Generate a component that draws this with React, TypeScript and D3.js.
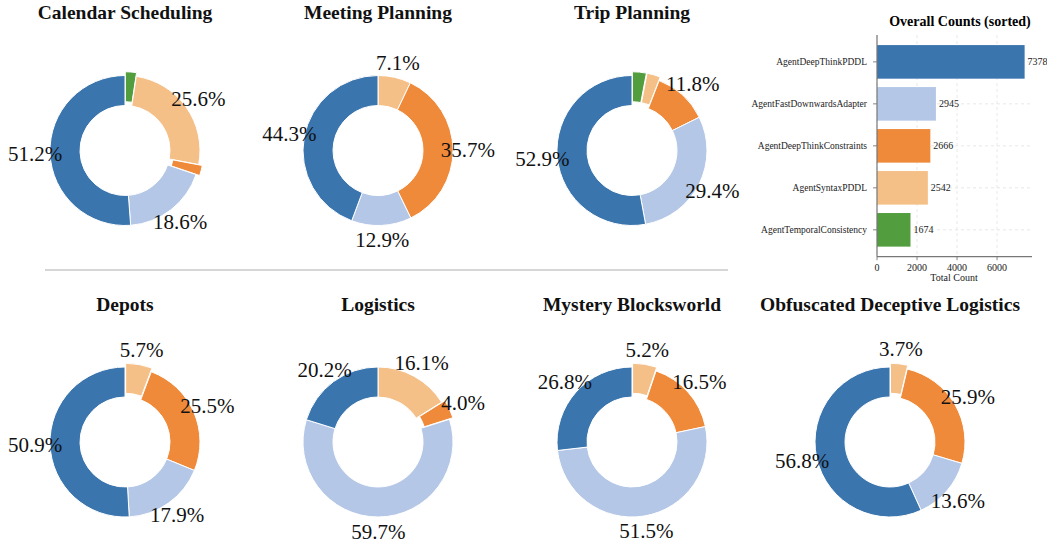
import React, { useEffect } from "react";
import * as d3 from "d3";

const width = 1047;
const height = 543;

// agents in the order the slices are drawn (clockwise from the top)
const agents = [
  "AgentTemporalConsistency",
  "AgentSyntaxPDDL",
  "AgentDeepThinkConstraints",
  "AgentFastDownwardsAdapter",
  "AgentDeepThinkPDDL",
];
const colors = ["#529e3e", "#f5c088", "#ef8a3a", "#b4c7e7", "#3a75ae"];

// percentage shares per domain, same order as agents
const domains = [
  "Calendar Scheduling",
  "Meeting Planning",
  "Trip Planning",
  "Depots",
  "Logistics",
  "Mystery Blocksworld",
  "Obfuscated Deceptive Logistics",
];
const calendarShares = [2.4, 25.6, 2.2, 18.6, 51.2];
const meetingShares = [0, 7.1, 35.7, 12.9, 44.3];
const tripShares = [3.0, 2.9, 11.8, 29.4, 52.9];
const depotsShares = [0, 5.7, 25.5, 17.9, 50.9];
const logisticsShares = [0, 16.1, 4.0, 59.7, 20.2];
const mysteryShares = [0, 5.2, 16.5, 51.5, 26.8];
const obfuscatedShares = [0, 3.7, 25.9, 13.6, 56.8];
const shares = [
  calendarShares,
  meetingShares,
  tripShares,
  depotsShares,
  logisticsShares,
  mysteryShares,
  obfuscatedShares,
];

// overall counts, sorted
const barAgents = [
  "AgentDeepThinkPDDL",
  "AgentFastDownwardsAdapter",
  "AgentDeepThinkConstraints",
  "AgentSyntaxPDDL",
  "AgentTemporalConsistency",
];
const barCounts = [7378, 2945, 2666, 2542, 1674];
const barColors = ["#3a75ae", "#b4c7e7", "#ef8a3a", "#f5c088", "#529e3e"];
const xTicks = [0, 2000, 4000, 6000];

const R = 75;
const font = "'Liberation Serif', 'Times New Roman', serif";
const centers = [
  [125, 150.5],
  [378, 150.5],
  [632, 150.5],
  [125, 442],
  [378, 442],
  [632, 442],
  [890, 442],
];
const titleY = [18.5, 18.5, 18.5, 311, 311, 311, 311];

const arc = d3.arc<d3.PieArcDatum<number>>().innerRadius(R * 0.6).outerRadius(R);
const pie = d3
  .pie<number>()
  .sort(null)
  .startAngle(0)
  .endAngle(2 * Math.PI);

function Donut({ idx }: { idx: number }) {
  const [cx, cy] = centers[idx];
  const arcs = pie(shares[idx]);
  return (
    <g transform={`translate(${cx},${cy})`}>
      {arcs.map((a, i) => {
        if (a.value === 0) return null;
        const mid = (a.startAngle + a.endAngle) / 2;
        const ex = a.value < 6 ? 0.05 * R : 0;
        const ox = Math.sin(mid) * ex;
        const oy = -Math.cos(mid) * ex;
        return (
          <path
            key={i}
            d={arc(a) || ""}
            transform={`translate(${ox},${oy})`}
            fill={colors[i]}
            stroke="#fff"
            strokeWidth={1}
          />
        );
      })}
      {arcs.map((a, i) => {
        if (a.value < 3.5) return null;
        const mid = (a.startAngle + a.endAngle) / 2;
        const ex = a.value < 6 ? 0.05 * R : 0;
        const d = 1.2 * R + ex;
        return (
          <text
            key={"t" + i}
            x={Math.sin(mid) * d}
            y={-Math.cos(mid) * d}
            textAnchor="middle"
            dominantBaseline="central"
            fontSize={21}
            fontFamily={font}
            fill="#111"
          >
            {a.value.toFixed(1)}%
          </text>
        );
      })}
    </g>
  );
}

function BarPanel() {
  const x = d3.scaleLinear().domain([0, 7378 * 1.05]).range([877, 1032]);
  const y = d3
    .scaleBand<string>()
    .domain(barAgents)
    .range([35, 256.7])
    .paddingInner(0.2)
    .paddingOuter(0.24);
  const [y0, y1] = y.range();
  return (
    <g fontFamily={font}>
      <text x={960} y={26} textAnchor="middle" fontSize={14} fontWeight="bold">
        Overall Counts (sorted)
      </text>
      {xTicks.map((t) => (
        <line
          key={"gx" + t}
          x1={x(t)}
          x2={x(t)}
          y1={y0}
          y2={y1}
          stroke="#e2e2e2"
          strokeDasharray="3,3"
          strokeWidth={0.8}
        />
      ))}
      {barAgents.map((a) => (
        <line
          key={"gy" + a}
          x1={x(0)}
          x2={x.range()[1]}
          y1={(y(a) || 0) + y.bandwidth() / 2}
          y2={(y(a) || 0) + y.bandwidth() / 2}
          stroke="#e2e2e2"
          strokeDasharray="3,3"
          strokeWidth={0.8}
        />
      ))}
      {barAgents.map((a, i) => (
        <g key={a}>
          <rect
            x={x(0)}
            y={y(a)}
            width={x(barCounts[i]) - x(0)}
            height={y.bandwidth()}
            fill={barColors[i]}
          />
          <text
            x={x(barCounts[i]) + 3}
            y={(y(a) || 0) + y.bandwidth() / 2}
            dominantBaseline="central"
            fontSize={10}
            fill="#222"
          >
            {barCounts[i]}
          </text>
          <line
            x1={x(0) - 4}
            x2={x(0)}
            y1={(y(a) || 0) + y.bandwidth() / 2}
            y2={(y(a) || 0) + y.bandwidth() / 2}
            stroke="#666"
            strokeWidth={0.8}
          />
          <text
            x={x(0) - 10}
            y={(y(a) || 0) + y.bandwidth() / 2}
            textAnchor="end"
            dominantBaseline="central"
            fontSize={9.5}
            fill="#222"
          >
            {a}
          </text>
        </g>
      ))}
      <line x1={x(0)} x2={x(0)} y1={y0} y2={y1} stroke="#777" strokeWidth={1.2} />
      <line x1={x(0)} x2={x.range()[1]} y1={y1} y2={y1} stroke="#777" strokeWidth={1.2} />
      {xTicks.map((t) => (
        <g key={"xt" + t}>
          <line x1={x(t)} x2={x(t)} y1={y1} y2={y1 + 3.5} stroke="#666" strokeWidth={0.8} />
          <text x={x(t)} y={y1 + 14} textAnchor="middle" fontSize={10} fill="#222">
            {t}
          </text>
        </g>
      ))}
      <text x={954} y={281} textAnchor="middle" fontSize={10} fill="#222">
        Total Count
      </text>
    </g>
  );
}

export default function App() {
  useEffect(() => {
    document.body.style.margin = "0";
  }, []);
  return (
    <svg
      width={width}
      height={height}
      style={{ position: "absolute", left: 0, top: 0, background: "#fff" }}
    >
      {domains.map((d, i) => (
        <g key={d}>
          <text
            x={centers[i][0]}
            y={titleY[i]}
            textAnchor="middle"
            fontSize={19.5}
            fontWeight="bold"
            fontFamily={font}
            fill="#111"
          >
            {d}
          </text>
          <Donut idx={i} />
        </g>
      ))}
      <line x1={45} x2={728} y1={270} y2={270} stroke="#c8c8c8" strokeWidth={1.5} />
      <BarPanel />
    </svg>
  );
}
